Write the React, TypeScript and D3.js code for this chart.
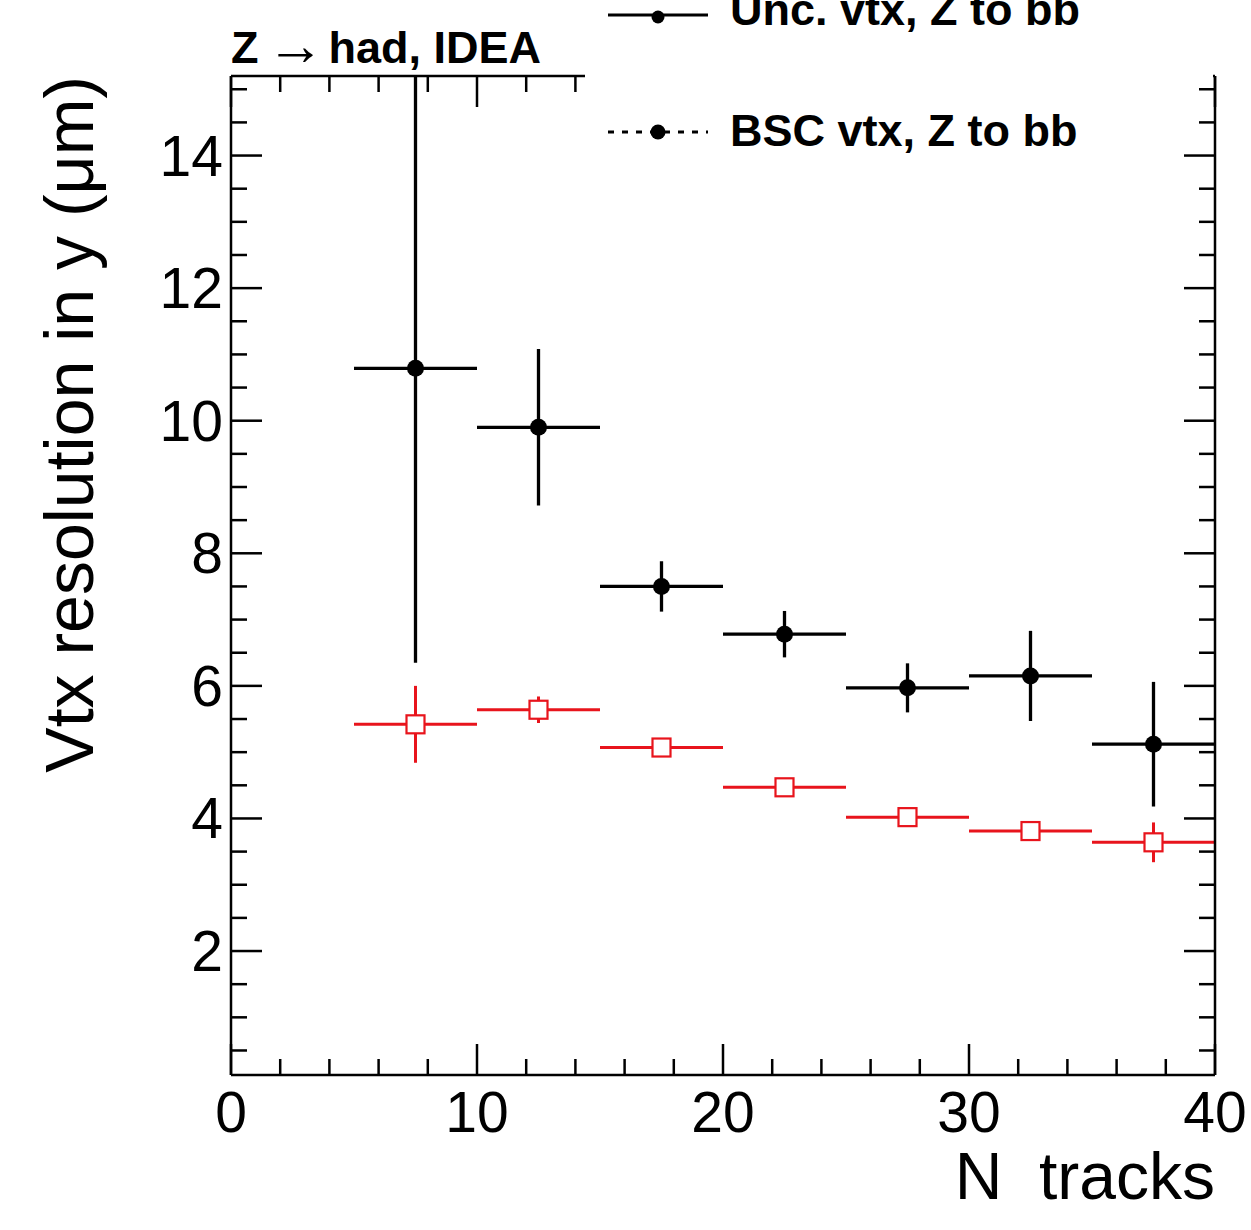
import React from "react";
import * as d3 from "d3";

const binCenters = [7.5, 12.5, 17.5, 22.5, 27.5, 32.5, 37.5];
const binHalfWidth = 2.5;
const uncValues = [10.79, 9.9, 7.5, 6.78, 5.97, 6.15, 5.12];
const uncErrors = [4.44, 1.18, 0.38, 0.35, 0.37, 0.68, 0.94];
const bscValues = [5.42, 5.64, 5.07, 4.47, 4.02, 3.81, 3.64];
const bscErrors = [0.58, 0.2, 0.03, 0.03, 0.03, 0.03, 0.3];
const xMajorTicks = [0, 10, 20, 30, 40];
const yMajorTicks = [2, 4, 6, 8, 10, 12, 14];
const legendLabels = ["Unc. vtx, Z to bb", "BSC vtx, Z to bb"];

const W = 1251;
const H = 1230;
const L = 231, R = 1215, T = 76, B = 1075;
const FONT = "'Liberation Sans', Arial, Helvetica, sans-serif";
const RED = "#e8141c";

export default function App() {
  const x = d3.scaleLinear().domain([0, 40]).range([L, R]);
  const y = d3.scaleLinear().domain([0.13, 15.2]).range([B, T]);

  const xMinor = d3.range(0, 40.001, 2).filter((v) => v % 10 !== 0);
  const yMinor = d3.range(0.5, 15.2, 0.5).filter((v) => Math.abs(v / 2 - Math.round(v / 2)) > 1e-6);

  const majLen = 31, minLen = 16;

  const unc = binCenters.map((c, i) => ({ c, v: uncValues[i], e: uncErrors[i] }));
  const bsc = binCenters.map((c, i) => ({ c, v: bscValues[i], e: bscErrors[i] }));

  return (
    <svg width={W} height={H} style={{ position: "absolute", left: 0, top: 0, background: "#fff" }} fontFamily={FONT}>
      <defs>
        <clipPath id="plot">
          <rect x={L} y={T} width={R - L} height={B - T} />
        </clipPath>
      </defs>
      <rect x={0} y={0} width={W} height={H} fill="#fff" />

      {/* bottom + top ticks */}
      <g stroke="#000" strokeWidth={2.5}>
        {xMajorTicks.map((t) => (
          <g key={"xm" + t}>
            <line x1={x(t)} x2={x(t)} y1={B} y2={B - majLen} />
            <line x1={x(t)} x2={x(t)} y1={T} y2={T + majLen} />
          </g>
        ))}
        {xMinor.map((t) => (
          <g key={"xn" + t}>
            <line x1={x(t)} x2={x(t)} y1={B} y2={B - minLen} />
            <line x1={x(t)} x2={x(t)} y1={T} y2={T + minLen} />
          </g>
        ))}
        {yMajorTicks.map((t) => (
          <line key={"ym" + t} x1={L} x2={L + majLen} y1={y(t)} y2={y(t)} />
        ))}
        {yMinor.map((t) => (
          <line key={"yn" + t} x1={L} x2={L + minLen} y1={y(t)} y2={y(t)} />
        ))}
      </g>

      {/* data */}
      <g clipPath="url(#plot)">
        {bsc.map((d, i) => (
          <g key={"b" + i} stroke={RED} strokeWidth={3}>
            <line x1={x(d.c - binHalfWidth)} x2={x(d.c + binHalfWidth)} y1={y(d.v)} y2={y(d.v)} />
            <line x1={x(d.c)} x2={x(d.c)} y1={y(d.v - d.e)} y2={y(d.v + d.e)} />
            <rect x={x(d.c) - 9} y={y(d.v) - 9} width={18} height={18} fill="#fff" strokeWidth={2.2} />
          </g>
        ))}
        {unc.map((d, i) => (
          <g key={"u" + i} stroke="#000" strokeWidth={3.3}>
            <line x1={x(d.c - binHalfWidth)} x2={x(d.c + binHalfWidth)} y1={y(d.v)} y2={y(d.v)} />
            <line x1={x(d.c)} x2={x(d.c)} y1={y(d.v - d.e)} y2={y(d.v + d.e)} />
            <circle cx={x(d.c)} cy={y(d.v)} r={8.5} fill="#000" stroke="none" />
          </g>
        ))}
      </g>

      {/* frame */}
      <line x1={L} x2={R} y1={B} y2={B} stroke="#000" strokeWidth={2.5} />
      <line x1={L} x2={L} y1={T} y2={B} stroke="#000" strokeWidth={2.5} />
      <line x1={L} x2={R} y1={T} y2={T} stroke="#000" strokeWidth={2.5} />

      {/* legend box (opaque) */}
      <rect x={585} y={0} width={628} height={108} fill="#fff" />
      <g stroke="#000" strokeWidth={3}>
        <line x1={608} x2={708} y1={15} y2={15} />
        <circle cx={658} cy={17} r={6.5} fill="#000" stroke="none" />
        <line x1={608} x2={708} y1={132} y2={132} strokeDasharray="6 8" />
        <circle cx={658} cy={132} r={7.5} fill="#000" stroke="none" />
      </g>
      <g fontWeight="bold" fontSize={45} fill="#000">
        <text x={730} y={25}>{legendLabels[0]}</text>
        <text x={730} y={146}>{legendLabels[1]}</text>
      </g>

      {/* right axis + ticks */}
      <line x1={R} x2={R} y1={T} y2={B} stroke="#000" strokeWidth={2.5} />
      <g stroke="#000" strokeWidth={2.5}>
        {yMajorTicks.map((t) => (
          <line key={"rm" + t} x1={R} x2={R - majLen} y1={y(t)} y2={y(t)} />
        ))}
        {yMinor.map((t) => (
          <line key={"rn" + t} x1={R} x2={R - minLen} y1={y(t)} y2={y(t)} />
        ))}
      </g>

      {/* tick labels */}
      <g fontSize={57} fill="#000">
        {xMajorTicks.map((t) => (
          <text key={"xl" + t} x={x(t)} y={1132} textAnchor="middle">{t}</text>
        ))}
        {yMajorTicks.map((t) => (
          <text key={"yl" + t} x={223} y={y(t) + 20} textAnchor="end">{t}</text>
        ))}
      </g>

      {/* axis titles */}
      <text x={R} y={1199} textAnchor="end" fontSize={66} fill="#000" xmlSpace="preserve">N  tracks</text>
      <text transform={`translate(93,76) rotate(-90)`} textAnchor="end" fontSize={68} fill="#000">
        Vtx resolution in y (μm)
      </text>

      {/* header */}
      <text x={231} y={63} fontSize={45} fontWeight="bold" fill="#000">
        Z<tspan fontWeight="normal" fontSize={58} dx={8} dy={2}>→</tspan><tspan dy={-2} dx={4}>had, IDEA</tspan>
      </text>
    </svg>
  );
}
